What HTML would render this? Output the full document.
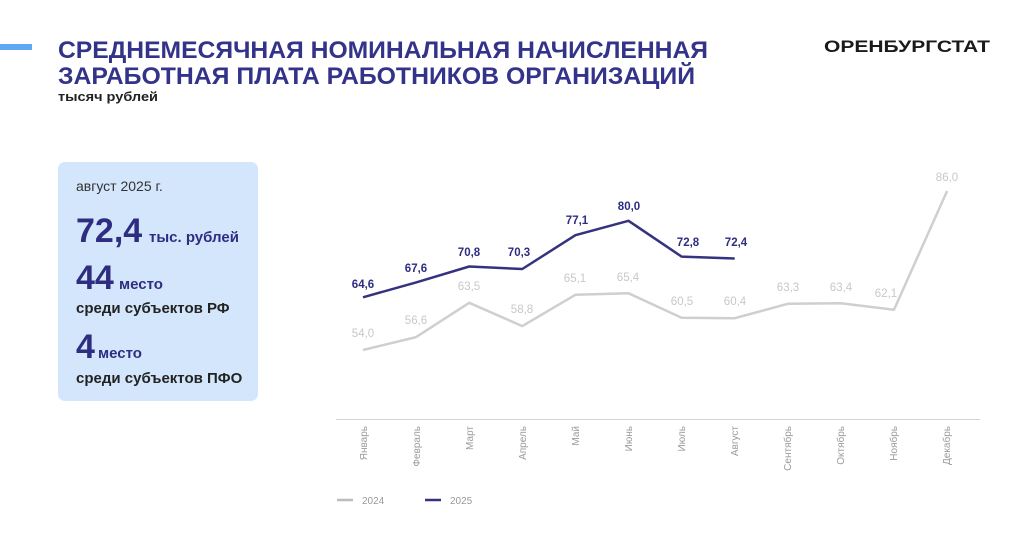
<!DOCTYPE html>
<html><head><meta charset="utf-8"><style>
html,body{margin:0;padding:0;background:#fff}
svg{display:block}
text{font-family:"Liberation Sans",sans-serif}
</style></head><body>
<svg width="1024" height="544" viewBox="0 0 1024 544" xmlns="http://www.w3.org/2000/svg">
<rect x="0" y="44" width="32" height="6" fill="#5ea9f2"/>
<text x="58" y="58" font-size="24" font-weight="bold" fill="#34338a" textLength="650" lengthAdjust="spacingAndGlyphs">СРЕДНЕМЕСЯЧНАЯ НОМИНАЛЬНАЯ НАЧИСЛЕННАЯ</text>
<text x="58" y="84" font-size="24" font-weight="bold" fill="#34338a" textLength="637" lengthAdjust="spacingAndGlyphs">ЗАРАБОТНАЯ ПЛАТА РАБОТНИКОВ ОРГАНИЗАЦИЙ</text>
<text x="58" y="101" font-size="13" font-weight="bold" fill="#222" textLength="100" lengthAdjust="spacingAndGlyphs">тысяч рублей</text>
<text x="824" y="52" font-size="17" font-weight="bold" fill="#1a1a1a" textLength="166" lengthAdjust="spacingAndGlyphs">ОРЕНБУРГСТАТ</text>

<rect x="58" y="162" width="200" height="239" rx="7" fill="#d3e6fb"/>
<text x="76" y="191" font-size="14" fill="#333">август 2025 г.</text>
<text x="76" y="242" font-size="34" font-weight="bold" fill="#2e2d80">72,4</text>
<text x="149" y="242" font-size="15" font-weight="bold" fill="#2e2d80">тыс. рублей</text>
<text x="76" y="289" font-size="34" font-weight="bold" fill="#2e2d80">44</text>
<text x="119" y="289" font-size="15" font-weight="bold" fill="#2e2d80">место</text>
<text x="76" y="313" font-size="15" font-weight="bold" fill="#222">среди субъектов РФ</text>
<text x="76" y="358" font-size="34" font-weight="bold" fill="#2e2d80">4</text>
<text x="98" y="358" font-size="15" font-weight="bold" fill="#2e2d80">место</text>
<text x="76" y="383" font-size="15" font-weight="bold" fill="#222">среди субъектов ПФО</text>

<line x1="336" y1="419.5" x2="980" y2="419.5" stroke="#d4d4d4" stroke-width="1"/>

<polyline fill="none" stroke="#cfcfcf" stroke-width="2.5" stroke-linejoin="round" points="363,350 416.1,337.1 469.2,302.8 522.3,326.1 575.4,294.8 628.5,293.3 681.6,317.7 734.7,318.2 787.8,303.8 840.9,303.3 894,309.7 947.1,191"/>
<polyline fill="none" stroke="#35337f" stroke-width="2.5" stroke-linejoin="round" points="363,297.3 416.1,282.4 469.2,266.5 522.3,269 575.4,235.2 628.5,220.8 681.6,256.6 734.7,258.5"/>

<g font-size="11.5" fill="#c8c8c8" text-anchor="middle">
<text x="363" y="337">54,0</text>
<text x="416" y="324">56,6</text>
<text x="469" y="290">63,5</text>
<text x="522" y="313">58,8</text>
<text x="575" y="282">65,1</text>
<text x="628" y="281">65,4</text>
<text x="682" y="305">60,5</text>
<text x="735" y="305">60,4</text>
<text x="788" y="291">63,3</text>
<text x="841" y="291">63,4</text>
<text x="886" y="297">62,1</text>
<text x="947" y="181">86,0</text>
</g>
<g font-size="11.5" font-weight="bold" fill="#2e2d80" text-anchor="middle">
<text x="363" y="288">64,6</text>
<text x="416" y="272">67,6</text>
<text x="469" y="256">70,8</text>
<text x="519" y="256">70,3</text>
<text x="577" y="224">77,1</text>
<text x="629" y="210">80,0</text>
<text x="688" y="246">72,8</text>
<text x="736" y="246">72,4</text>
</g>

<g font-size="10" fill="#9a9a9a" text-anchor="end">
<text transform="translate(367,426) rotate(-90)">Январь</text>
<text transform="translate(420,426) rotate(-90)">Февраль</text>
<text transform="translate(473,426) rotate(-90)">Март</text>
<text transform="translate(526,426) rotate(-90)">Апрель</text>
<text transform="translate(579,426) rotate(-90)">Май</text>
<text transform="translate(632,426) rotate(-90)">Июнь</text>
<text transform="translate(685,426) rotate(-90)">Июль</text>
<text transform="translate(738,426) rotate(-90)">Август</text>
<text transform="translate(791,426) rotate(-90)">Сентябрь</text>
<text transform="translate(844,426) rotate(-90)">Октябрь</text>
<text transform="translate(897,426) rotate(-90)">Ноябрь</text>
<text transform="translate(950,426) rotate(-90)">Декабрь</text>
</g>

<line x1="337" y1="500" x2="353" y2="500" stroke="#bdbdbd" stroke-width="2.5"/>
<text x="362" y="504" font-size="10" fill="#9a9a9a">2024</text>
<line x1="425" y1="500" x2="441" y2="500" stroke="#35337f" stroke-width="2.5"/>
<text x="450" y="504" font-size="10" fill="#9a9a9a">2025</text>
</svg>
</body></html>
